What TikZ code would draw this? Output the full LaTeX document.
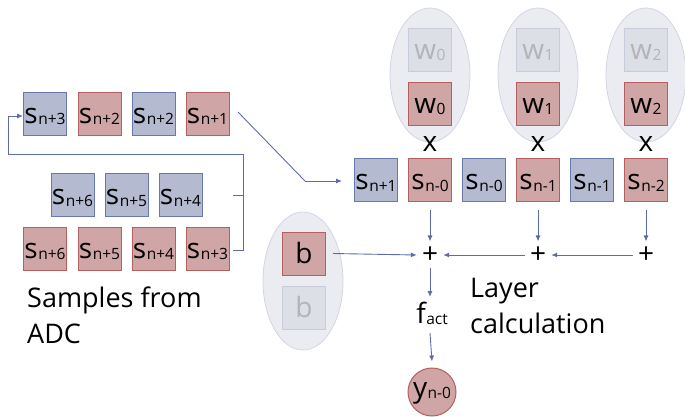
\documentclass[tikz,border=0pt]{standalone}
\usepackage{fontspec}
\setmainfont{Open Sans}
\usetikzlibrary{shapes.geometric,arrows.meta}
\definecolor{bfill}{HTML}{B4BACF}
\definecolor{bdraw}{HTML}{6A77AA}
\definecolor{rfill}{HTML}{CFA5A6}
\definecolor{rdraw}{HTML}{B65F60}
\definecolor{efill}{HTML}{EBECF2}
\definecolor{edraw}{HTML}{D2D5E4}
\definecolor{gfill}{HTML}{DDDFE7}
\definecolor{gdraw}{HTML}{C8CBDA}
\definecolor{gtext}{HTML}{B4B4B6}
\definecolor{arr}{HTML}{5D6CA8}
\newcommand\sv[2]{{\fontsize{28}{28}\selectfont #1}\kern0.5pt\raisebox{-1.5pt}{\fontsize{15.5}{15.5}\selectfont #2}}
\tikzset{
  cell/.style={minimum width=43pt,minimum height=43pt,inner sep=0pt,line width=1pt,text height=21pt,text depth=1.5pt},
  bbox/.style={cell,fill=bfill,draw=bdraw},
  rbox/.style={cell,fill=rfill,draw=rdraw},
  gbox/.style={cell,fill=gfill,draw=gdraw,text=gtext},
  ell/.style={ellipse,fill=efill,draw=edraw,line width=0.8pt,minimum width=80pt,minimum height=134pt,inner sep=0pt},
  conn/.style={draw=arr,line width=0.9pt},
  arrw/.style={conn,-{Latex[length=6pt,width=5pt]}},
  big/.style={font=\fontsize{27}{36}\selectfont,align=left,inner sep=0pt},
  sym/.style={font=\fontsize{28}{28}\selectfont,inner sep=0pt}
}
\begin{document}
\begin{tikzpicture}[x=1pt,y=-1pt]
\useasboundingbox (0,0) rectangle (685,416);
% ellipses
\node[ell] (e0) at (430,75) {};
\node[ell] (e1) at (538,75) {};
\node[ell] (e2) at (646,75) {};
\node[ell,minimum height=138pt] (eb) at (303,281) {};
% left samples
\node[bbox] (t1) at (45,113.5) {\sv{s}{n+3}};
\node[rbox] (t2) at (99.5,113.5) {\sv{s}{n+2}};
\node[bbox] (t3) at (153.5,113.5) {\sv{s}{n+2}};
\node[rbox] (t4) at (207.5,113.5) {\sv{s}{n+1}};
\node[bbox] (m1) at (72.5,195) {\sv{s}{n+6}};
\node[bbox] (m2) at (126.5,195) {\sv{s}{n+5}};
\node[bbox] (m3) at (180.5,195) {\sv{s}{n+4}};
\node[rbox] (r1) at (45,248.5) {\sv{s}{n+6}};
\node[rbox] (r2) at (99.5,248.5) {\sv{s}{n+5}};
\node[rbox] (r3) at (153.5,248.5) {\sv{s}{n+4}};
\node[rbox] (r4) at (207.5,248.5) {\sv{s}{n+3}};
\node[big,anchor=base west] (lab1) at (27,343) {Samples from\\ADC};
% right row
\node[bbox] (p1) at (376,180) {\sv{s}{n+1}};
\node[rbox] (p2) at (430,180) {\sv{s}{n-0}};
\node[bbox] (p3) at (484,180) {\sv{s}{n-0}};
\node[rbox] (p4) at (538,180) {\sv{s}{n-1}};
\node[bbox] (p5) at (592,180) {\sv{s}{n-1}};
\node[rbox] (p6) at (646,180) {\sv{s}{n-2}};
% weights
\node[gbox] (g0) at (430,49.5) {\sv{w}{0}};
\node[gbox] (g1) at (538,49.5) {\sv{w}{1}};
\node[gbox] (g2) at (646,49.5) {\sv{w}{2}};
\node[rbox] (w0) at (430,103.5) {\sv{w}{0}};
\node[rbox] (w1) at (538,103.5) {\sv{w}{1}};
\node[rbox] (w2) at (646,103.5) {\sv{w}{2}};
\node[sym,anchor=base] (x0) at (430,151) {x};
\node[sym,anchor=base] (x1) at (538,151) {x};
\node[sym,anchor=base] (x2) at (646,151) {x};
% bias
\node[rbox] (b1) at (304,253.5) {{\fontsize{28}{28}\selectfont b}};
\node[gbox] (b2) at (304,307.5) {{\fontsize{28}{28}\selectfont b}};
% sums
\node[sym] (s0) at (430,255) {+};
\node[sym] (s1) at (538,255) {+};
\node[sym] (s2) at (646,255) {+};
\node[inner sep=0pt,anchor=base] (fa) at (432,323) {\sv{f}{act}};
\node[circle,fill=rfill,draw=rdraw,line width=1pt,minimum size=48pt,inner sep=0pt] (y) at (432,392) {};
\node[inner sep=0pt,anchor=base] (yl) at (432,397) {\sv{y}{n-0}};
\node[big,anchor=base west] (lab2) at (470,333) {Layer\\calculation};
% connectors
\coordinate (k2) at (233,195);
\coordinate (k3) at (233,250);
\coordinate (kc) at (243,195);
\coordinate (kb) at (243,250);
\coordinate (ktop) at (243,154);
\coordinate (kl) at (8,154);
\coordinate (kl2) at (8,116);
\draw[conn] (k2) -- (kc);
\draw[conn] (k3) -- (kb) -- (ktop) -- (kl) -- (kl2);
\draw[arrw] (kl2) -- (t1.west |- kl2);
\coordinate (a1) at (238,112);
\coordinate (a2) at (305,181);
\coordinate (a3) at (342,181);
\draw[conn] (a1) -- (a2);
\draw[arrw] (a2) -- (a3);
\draw[arrw] ([yshift=-8pt]p2.south) -- ([yshift=5pt]s0.north);
\draw[arrw] ([yshift=-8pt]p4.south) -- ([yshift=5pt]s1.north);
\draw[arrw] ([yshift=-8pt]p6.south) -- ([yshift=5pt]s2.north);
\draw[arrw] ([xshift=-5pt]s2.west) -- ([xshift=5pt]s1.east);
\draw[arrw] ([xshift=-5pt]s1.west) -- ([xshift=5pt]s0.east);
\draw[arrw] ([xshift=7pt]b1.east) -- ([xshift=-5pt]s0.west);
\draw[arrw] ([yshift=-4pt]s0.south) -- (430,297);
\draw[arrw] (430,333) -- ([yshift=6pt]y.north);
\end{tikzpicture}
\end{document}
